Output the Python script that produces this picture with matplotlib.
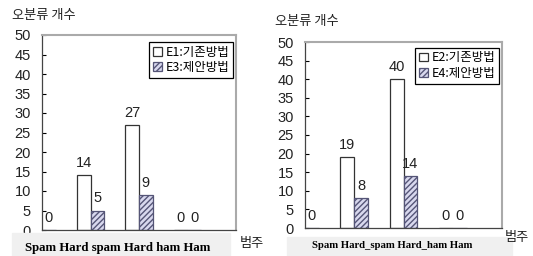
import matplotlib
matplotlib.use("Agg")
import matplotlib.pyplot as plt
import numpy as np

categories = ["Spam", "Hard_spam", "Hard_ham", "Ham"]
yticks = [0, 5, 10, 15, 20, 25, 30, 35, 40, 45, 50]

left_names = ["E1:기존방법", "E3:제안방법"]
left_old = [0, 14, 27, 0]
left_new = [0, 5, 9, 0]

right_names = ["E2:기존방법", "E4:제안방법"]
right_old = [0, 19, 40, 0]
right_new = [0, 8, 14, 0]

KR = ["Noto Sans CJK KR", "DejaVu Sans"]
NUM = ["Liberation Sans", "DejaVu Sans"]

W, H = 533, 256
fig = plt.figure(figsize=(W / 100, H / 100), dpi=100)


def px(l, t, r, b):
    return [l / W, 1 - b / H, (r - l) / W, (b - t) / H]


def panel(rect, old, new, names, ylab_xy, cat_box, cat_text, cat_size, fanju_xy, leg_anchor):
    ax = fig.add_axes(px(*rect))
    x = np.arange(len(categories))
    bw = 0.28
    ax.bar(x - bw / 2, old, bw, color="white", edgecolor="#333333", linewidth=0.9, label=names[0])
    ax.bar(x + bw / 2, new, bw, color="#d8d8ee", edgecolor="#555577", linewidth=0.9,
           hatch="//////", label=names[1])
    for xs, vals in ((x - bw / 2, old), (x + bw / 2, new)):
        for xi, v in zip(xs, vals):
            ax.text(xi, v + 1.3, str(v), ha="center", va="bottom", fontsize=10.5,
                    family=NUM, color="#222222", clip_on=True)
    ax.set_xlim(0, 4)
    ax.set_ylim(0, 50)
    ax.set_yticks(yticks)
    ax.set_xticks([])
    ax.tick_params(axis="y", direction="in", length=3, width=0.8, pad=8, labelsize=10.5,
                   labelcolor="#222222")
    for t in ax.get_yticklabels():
        t.set_family(NUM)
    for s in ("top", "right"):
        ax.spines[s].set_color("#aaaaaa")
        ax.spines[s].set_linewidth(1.5)
    for s in ("left", "bottom"):
        ax.spines[s].set_color("#444444")
        ax.spines[s].set_linewidth(0.9)
    leg = ax.legend(loc="upper right", bbox_to_anchor=leg_anchor,
                    prop={"family": KR, "size": 9}, frameon=True, fancybox=False,
                    edgecolor="black", framealpha=1, handlelength=0.7, handleheight=0.7,
                    handletextpad=0.3, borderpad=0.3, labelspacing=0.2, borderaxespad=0)
    leg.get_frame().set_linewidth(0.9)

    fig.text(ylab_xy[0] / W, 1 - ylab_xy[1] / H, "오분류 개수", family=KR, fontsize=9.5,
             ha="left", va="center", color="#222222")
    fig.text(fanju_xy[0] / W, 1 - fanju_xy[1] / H, "범주", family=KR, fontsize=9.5,
             ha="left", va="center", color="#222222")
    l, t, r, b = cat_box
    fig.patches.append(plt.Rectangle((l / W, 1 - b / H), (r - l) / W, (b - t) / H,
                                     transform=fig.transFigure, color="#f0f0f0", zorder=0))
    fig.text(cat_text[0] / W, 1 - cat_text[1] / H, cat_text[2], family="Liberation Serif",
             weight="bold", fontsize=cat_size, ha="center", va="center")
    return ax


panel((42, 35, 236, 230), left_old, left_new, left_names, (12, 15), (12, 233, 230, 256),
      (118, 248, " ".join(c.replace("_", " ") for c in categories)), 9.2, (240, 243),
      (0.985, 0.965))
panel((305, 42, 502, 228), right_old, right_new, right_names, (275, 22), (287, 237, 512, 256),
      (392, 245, " ".join(categories)), 7.7, (505, 238), (0.985, 0.97))

fig.savefig("out.png", dpi=100)
